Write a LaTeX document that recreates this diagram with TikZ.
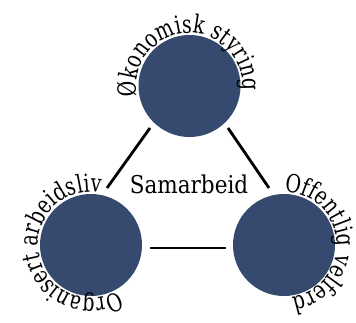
\documentclass[tikz,border=0pt]{standalone}
\usepackage{fontspec}
\setmainfont{DejaVu Serif}[FakeStretch=0.88]
\newfontfamily\curvefam{DejaVu Serif}[FakeStretch=0.76]
\usetikzlibrary{decorations.text}
\definecolor{circblue}{RGB}{53,74,110}
\newcommand\curvefont{\curvefam\fontsize{25}{29}\selectfont}
\begin{document}
\begin{tikzpicture}[x=1pt,y=1pt,
  circ/.style={circle,fill=circblue,draw=none,minimum size=102pt,inner sep=0pt},
  link/.style={line width=2.8pt,black},
  curved/.style={decorate,decoration={text along path,text align=center,text={|\curvefont|#1}}}]
\useasboundingbox (0,0) rectangle (356,322);
\node[circ] (top) at (189.5,236) {};
\node[circ] (left) at (91,77) {};
\node[circ] (right) at (284,77) {};
\node[font=\fontsize{24.5}{28}\selectfont,anchor=base,inner sep=0pt] (sam) at (189,129) {Samarbeid};
\coordinate (tl) at (150,194);
\coordinate (lt) at (107,134);
\coordinate (tr) at (228,194);
\coordinate (rt) at (269,134);
\coordinate (lr) at (150,74);
\coordinate (rl) at (226,74);
\draw[link] (tl) -- (lt);
\draw[link] (tr) -- (rt);
\draw[link] (lr) -- (rl);
\path[curved={Økonomisk styring}] (top.center) ++(213:53pt) arc[start angle=213,end angle=-27,radius=53pt];
\path[curved={Organisert arbeidsliv}] (left.center) ++(310:53pt) arc[start angle=310,end angle=70,radius=53pt];
\path[curved={Offentlig velferd}] (right.center) ++(124:53pt) arc[start angle=124,end angle=-116,radius=53pt];
\end{tikzpicture}
\end{document}
